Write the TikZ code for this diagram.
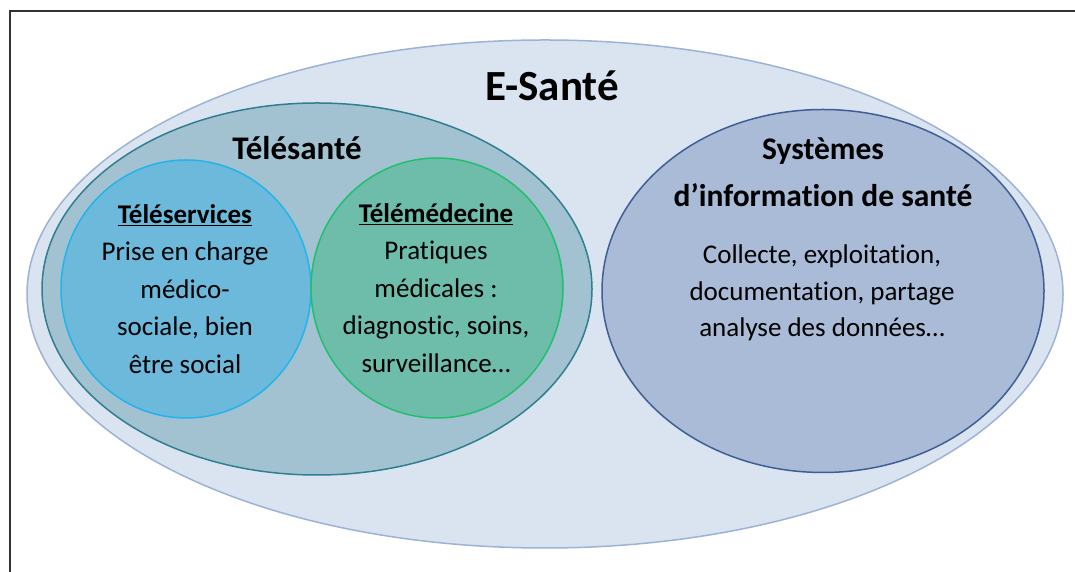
\documentclass[tikz,border=0pt]{standalone}
\usepackage{fontspec}
\setmainfont{Carlito}[Ligatures=NoCommon]
\usepackage{tikz}
\usetikzlibrary{shapes.geometric}

\definecolor{esantefill}{HTML}{DAE3F0}
\definecolor{esanteline}{HTML}{9DB3D6}
\definecolor{telefill}{HTML}{A2C2D2}
\definecolor{teleline}{HTML}{2F7F90}
\definecolor{servfill}{HTML}{6CB9DB}
\definecolor{servline}{HTML}{22B4EA}
\definecolor{medfill}{HTML}{6DBDAA}
\definecolor{medline}{HTML}{22BF6C}
\definecolor{sisfill}{HTML}{A9BBD6}
\definecolor{sisline}{HTML}{3E5F96}

\begin{document}
\begin{tikzpicture}[x=1pt,y=1pt,
    zone/.style={ellipse,inner sep=0pt,line width=1.5pt},
    title/.style={font=\bfseries\fontsize{33}{37}\selectfont},
    body/.style={align=center,font=\fontsize{27}{37.5}\selectfont}]
  \useasboundingbox[fill=white] (0,0) rectangle (1075,572);
  \draw[color=black!80,line width=2pt] (1075,561) -- (10,561) -- (10,0);

  \node[zone,draw=esanteline,fill=esantefill,minimum width=1036,minimum height=508] (esante) at (545,278) {};
  \node[zone,draw=teleline,fill=telefill,minimum width=550,minimum height=372] (telesante) at (317,283) {};
  \node[zone,draw=servline,fill=servfill,minimum width=250,minimum height=258] (teleserv) at (186,283) {};
  \node[zone,draw=medline,fill=medfill,minimum width=252,minimum height=260] (telemed) at (437,284) {};
  \node[zone,draw=sisline,fill=sisfill,minimum width=442,minimum height=363] (sis) at (823,281) {};

  \node[font=\bfseries\fontsize{43}{48}\selectfont] (esantelbl) at (552,486) {E-Santé};
  \node[title] (telelbl) at (297,424) {Télésanté};
  \node[title,align=center,font=\bfseries\fontsize{31.5}{47}\selectfont] (sislbl) at (823,400) {Systèmes\\d’information de santé};

  \node[body] (servtxt) at (185,283) {\textbf{\underline{Téléservices}}\\Prise en charge\\médico-\\sociale, bien\\être social};
  \node[body] (medtxt) at (436,284) {\textbf{\underline{Télémédecine}}\\Pratiques\\médicales :\\diagnostic, soins,\\surveillance…};
  \node[body,font=\fontsize{27}{36.5}\selectfont] (sistxt) at (822,279) {Collecte, exploitation,\\documentation, partage\\analyse des données…};
\end{tikzpicture}
\end{document}
